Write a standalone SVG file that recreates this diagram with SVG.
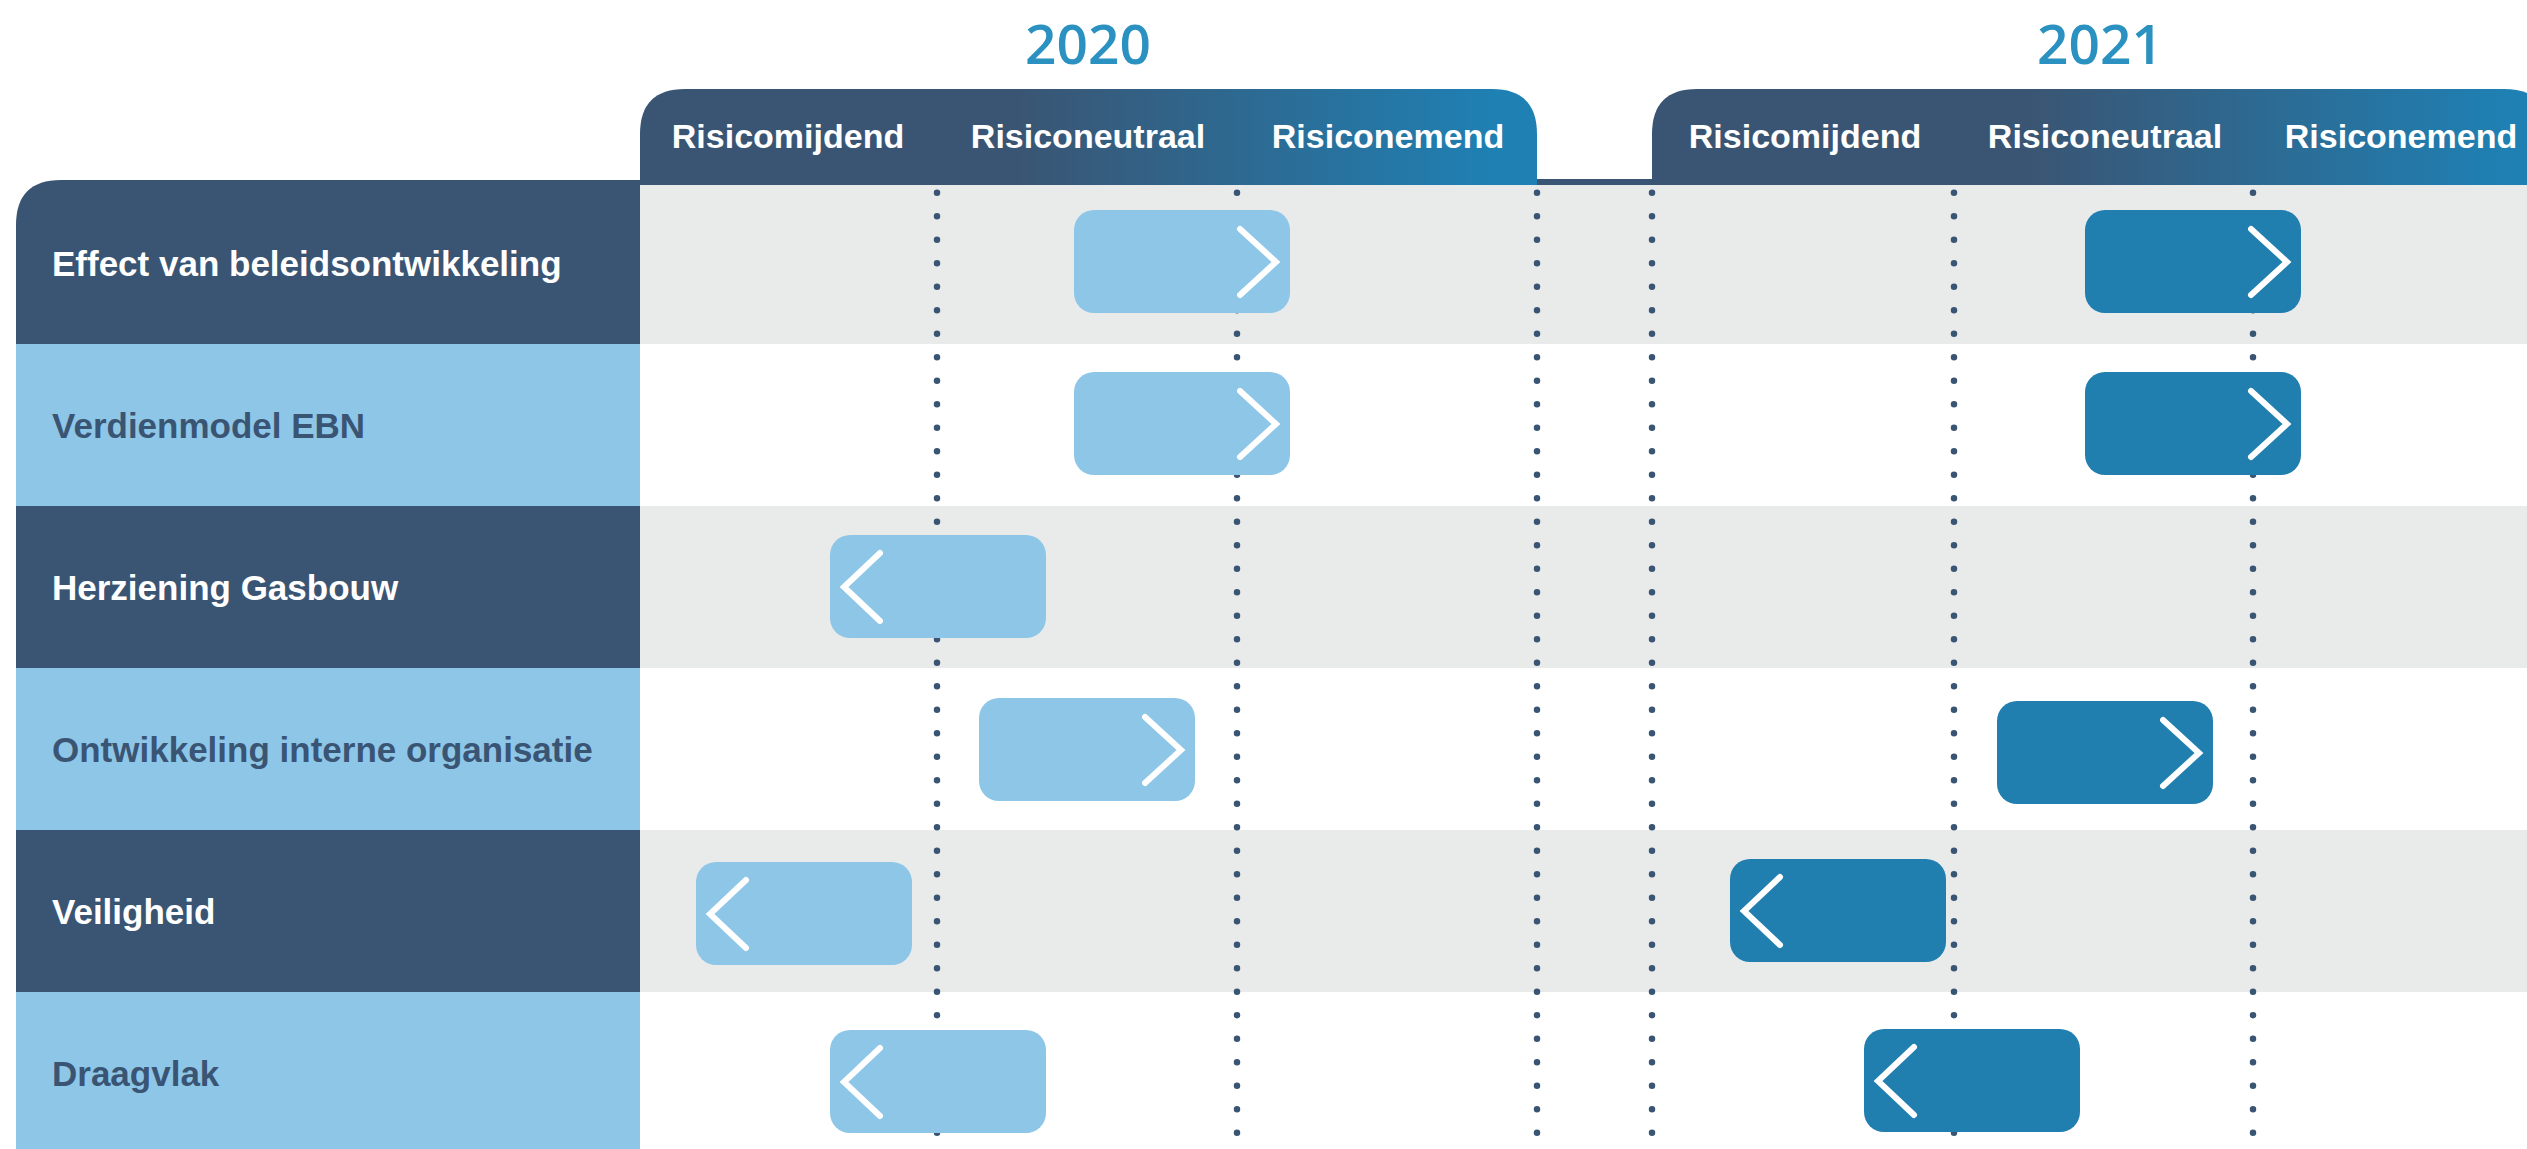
<svg xmlns="http://www.w3.org/2000/svg" width="2527" height="1149" viewBox="0 0 2527 1149">
<defs>
<style>
.year{font-family:"Open Sans","Liberation Sans",sans-serif;font-weight:600;font-size:55px;fill:#2a91c0;text-anchor:middle}
.hdr{font-family:"Liberation Sans","Arial",sans-serif;font-weight:bold;font-size:34px;fill:#ffffff;text-anchor:middle}
.lbl{font-family:"Liberation Sans","Arial",sans-serif;font-weight:bold;font-size:35px}
.lbl-d{fill:#ffffff}
.lbl-l{fill:#3a5573}
.pan-d{fill:#3a5573}
.pan-l{fill:#8ec6e8}
.row-g{fill:#e9ebea}
.row-w{fill:#ffffff}
.bar-l{fill:#8ec6e8}
.bar-d{fill:#217fb0}
.chev{fill:none;stroke:#ffffff;stroke-width:6;stroke-linecap:round;stroke-linejoin:miter}
.dots{fill:none;stroke:#3a5573;stroke-width:6.5;stroke-linecap:round;stroke-dasharray:0 23.5}
</style>
<linearGradient id="tabgrad" x1="0" y1="0" x2="1" y2="0">
<stop offset="0" stop-color="#3a5573"/>
<stop offset="0.42" stop-color="#3a5573"/>
<stop offset="0.95" stop-color="#1f80b3"/>
<stop offset="1" stop-color="#1f80b3"/>
</linearGradient>
</defs>
<rect width="2527" height="1149" fill="#ffffff"/>

<!-- row backgrounds -->
<g id="rows">
<rect class="row-g" x="640" y="185" width="1887" height="159"/>
<rect class="row-w" x="640" y="344" width="1887" height="162"/>
<rect class="row-g" x="640" y="506" width="1887" height="162"/>
<rect class="row-w" x="640" y="668" width="1887" height="162"/>
<rect class="row-g" x="640" y="830" width="1887" height="162"/>
<rect class="row-w" x="640" y="992" width="1887" height="157"/>
</g>

<!-- header strip line -->
<rect x="640" y="179" width="1887" height="6" fill="#3a5573"/>

<!-- year headers -->
<g id="year-2020">
<text class="year" x="1088" y="64">2020</text>
<path d="M640,185 V134 Q640,89 685,89 H1492 Q1537,89 1537,134 V185 Z" fill="url(#tabgrad)"/>
<text class="hdr" x="788" y="148">Risicomijdend</text>
<text class="hdr" x="1088" y="148">Risiconeutraal</text>
<text class="hdr" x="1388" y="148">Risiconemend</text>
</g>
<g id="year-2021">
<text class="year" x="2100" y="64">2021</text>
<path d="M1652,185 V134 Q1652,89 1697,89 H2504 Q2549,89 2549,134 V185 Z" fill="url(#tabgrad)"/>
<text class="hdr" x="1805" y="148">Risicomijdend</text>
<text class="hdr" x="2105" y="148">Risiconeutraal</text>
<text class="hdr" x="2401" y="148">Risiconemend</text>
</g>

<!-- row labels -->
<g id="label-effect">
<path class="pan-d" d="M16,344 V225 Q16,180 61,180 H640 V344 Z"/>
<text class="lbl lbl-d" x="52" y="276">Effect van beleidsontwikkeling</text>
</g>
<g id="label-verdienmodel">
<rect class="pan-l" x="16" y="344" width="624" height="162"/>
<text class="lbl lbl-l" x="52" y="438">Verdienmodel EBN</text>
</g>
<g id="label-herziening">
<rect class="pan-d" x="16" y="506" width="624" height="162"/>
<text class="lbl lbl-d" x="52" y="600">Herziening Gasbouw</text>
</g>
<g id="label-ontwikkeling">
<rect class="pan-l" x="16" y="668" width="624" height="162"/>
<text class="lbl lbl-l" x="52" y="762">Ontwikkeling interne organisatie</text>
</g>
<g id="label-veiligheid">
<rect class="pan-d" x="16" y="830" width="624" height="162"/>
<text class="lbl lbl-d" x="52" y="924">Veiligheid</text>
</g>
<g id="label-draagvlak">
<rect class="pan-l" x="16" y="992" width="624" height="157"/>
<text class="lbl lbl-l" x="52" y="1086">Draagvlak</text>
</g>

<!-- dotted guides -->
<g id="guides">
<line class="dots" x1="937" y1="192.7" x2="937" y2="1160"/>
<line class="dots" x1="1237" y1="192.7" x2="1237" y2="1160"/>
<line class="dots" x1="1537" y1="192.7" x2="1537" y2="1160"/>
<line class="dots" x1="1652" y1="192.7" x2="1652" y2="1160"/>
<line class="dots" x1="1954" y1="192.7" x2="1954" y2="1160"/>
<line class="dots" x1="2253" y1="192.7" x2="2253" y2="1160"/>
</g>

<!-- bars -->
<g id="bar-effect-2020" transform="translate(1074,210)">
<rect class="bar-l" width="216" height="103" rx="20"/>
<path class="chev" d="M166,19 L202,52 L166,85"/>
</g>
<g id="bar-effect-2021" transform="translate(2085,210)">
<rect class="bar-d" width="216" height="103" rx="20"/>
<path class="chev" d="M166,19 L202,52 L166,85"/>
</g>
<g id="bar-verdienmodel-2020" transform="translate(1074,372)">
<rect class="bar-l" width="216" height="103" rx="20"/>
<path class="chev" d="M166,19 L202,52 L166,85"/>
</g>
<g id="bar-verdienmodel-2021" transform="translate(2085,372)">
<rect class="bar-d" width="216" height="103" rx="20"/>
<path class="chev" d="M166,19 L202,52 L166,85"/>
</g>
<g id="bar-herziening-2020" transform="translate(830,535)">
<rect class="bar-l" width="216" height="103" rx="20"/>
<path class="chev" d="M50,18 L14,52 L50,86"/>
</g>
<g id="bar-ontwikkeling-2020" transform="translate(979,698)">
<rect class="bar-l" width="216" height="103" rx="20"/>
<path class="chev" d="M166,19 L202,52 L166,85"/>
</g>
<g id="bar-ontwikkeling-2021" transform="translate(1997,701)">
<rect class="bar-d" width="216" height="103" rx="20"/>
<path class="chev" d="M166,19 L202,52 L166,85"/>
</g>
<g id="bar-veiligheid-2020" transform="translate(696,862)">
<rect class="bar-l" width="216" height="103" rx="20"/>
<path class="chev" d="M50,18 L14,52 L50,86"/>
</g>
<g id="bar-veiligheid-2021" transform="translate(1730,859)">
<rect class="bar-d" width="216" height="103" rx="20"/>
<path class="chev" d="M50,18 L14,52 L50,86"/>
</g>
<g id="bar-draagvlak-2020" transform="translate(830,1030)">
<rect class="bar-l" width="216" height="103" rx="20"/>
<path class="chev" d="M50,18 L14,52 L50,86"/>
</g>
<g id="bar-draagvlak-2021" transform="translate(1864,1029)">
<rect class="bar-d" width="216" height="103" rx="20"/>
<path class="chev" d="M50,18 L14,52 L50,86"/>
</g>
</svg>
